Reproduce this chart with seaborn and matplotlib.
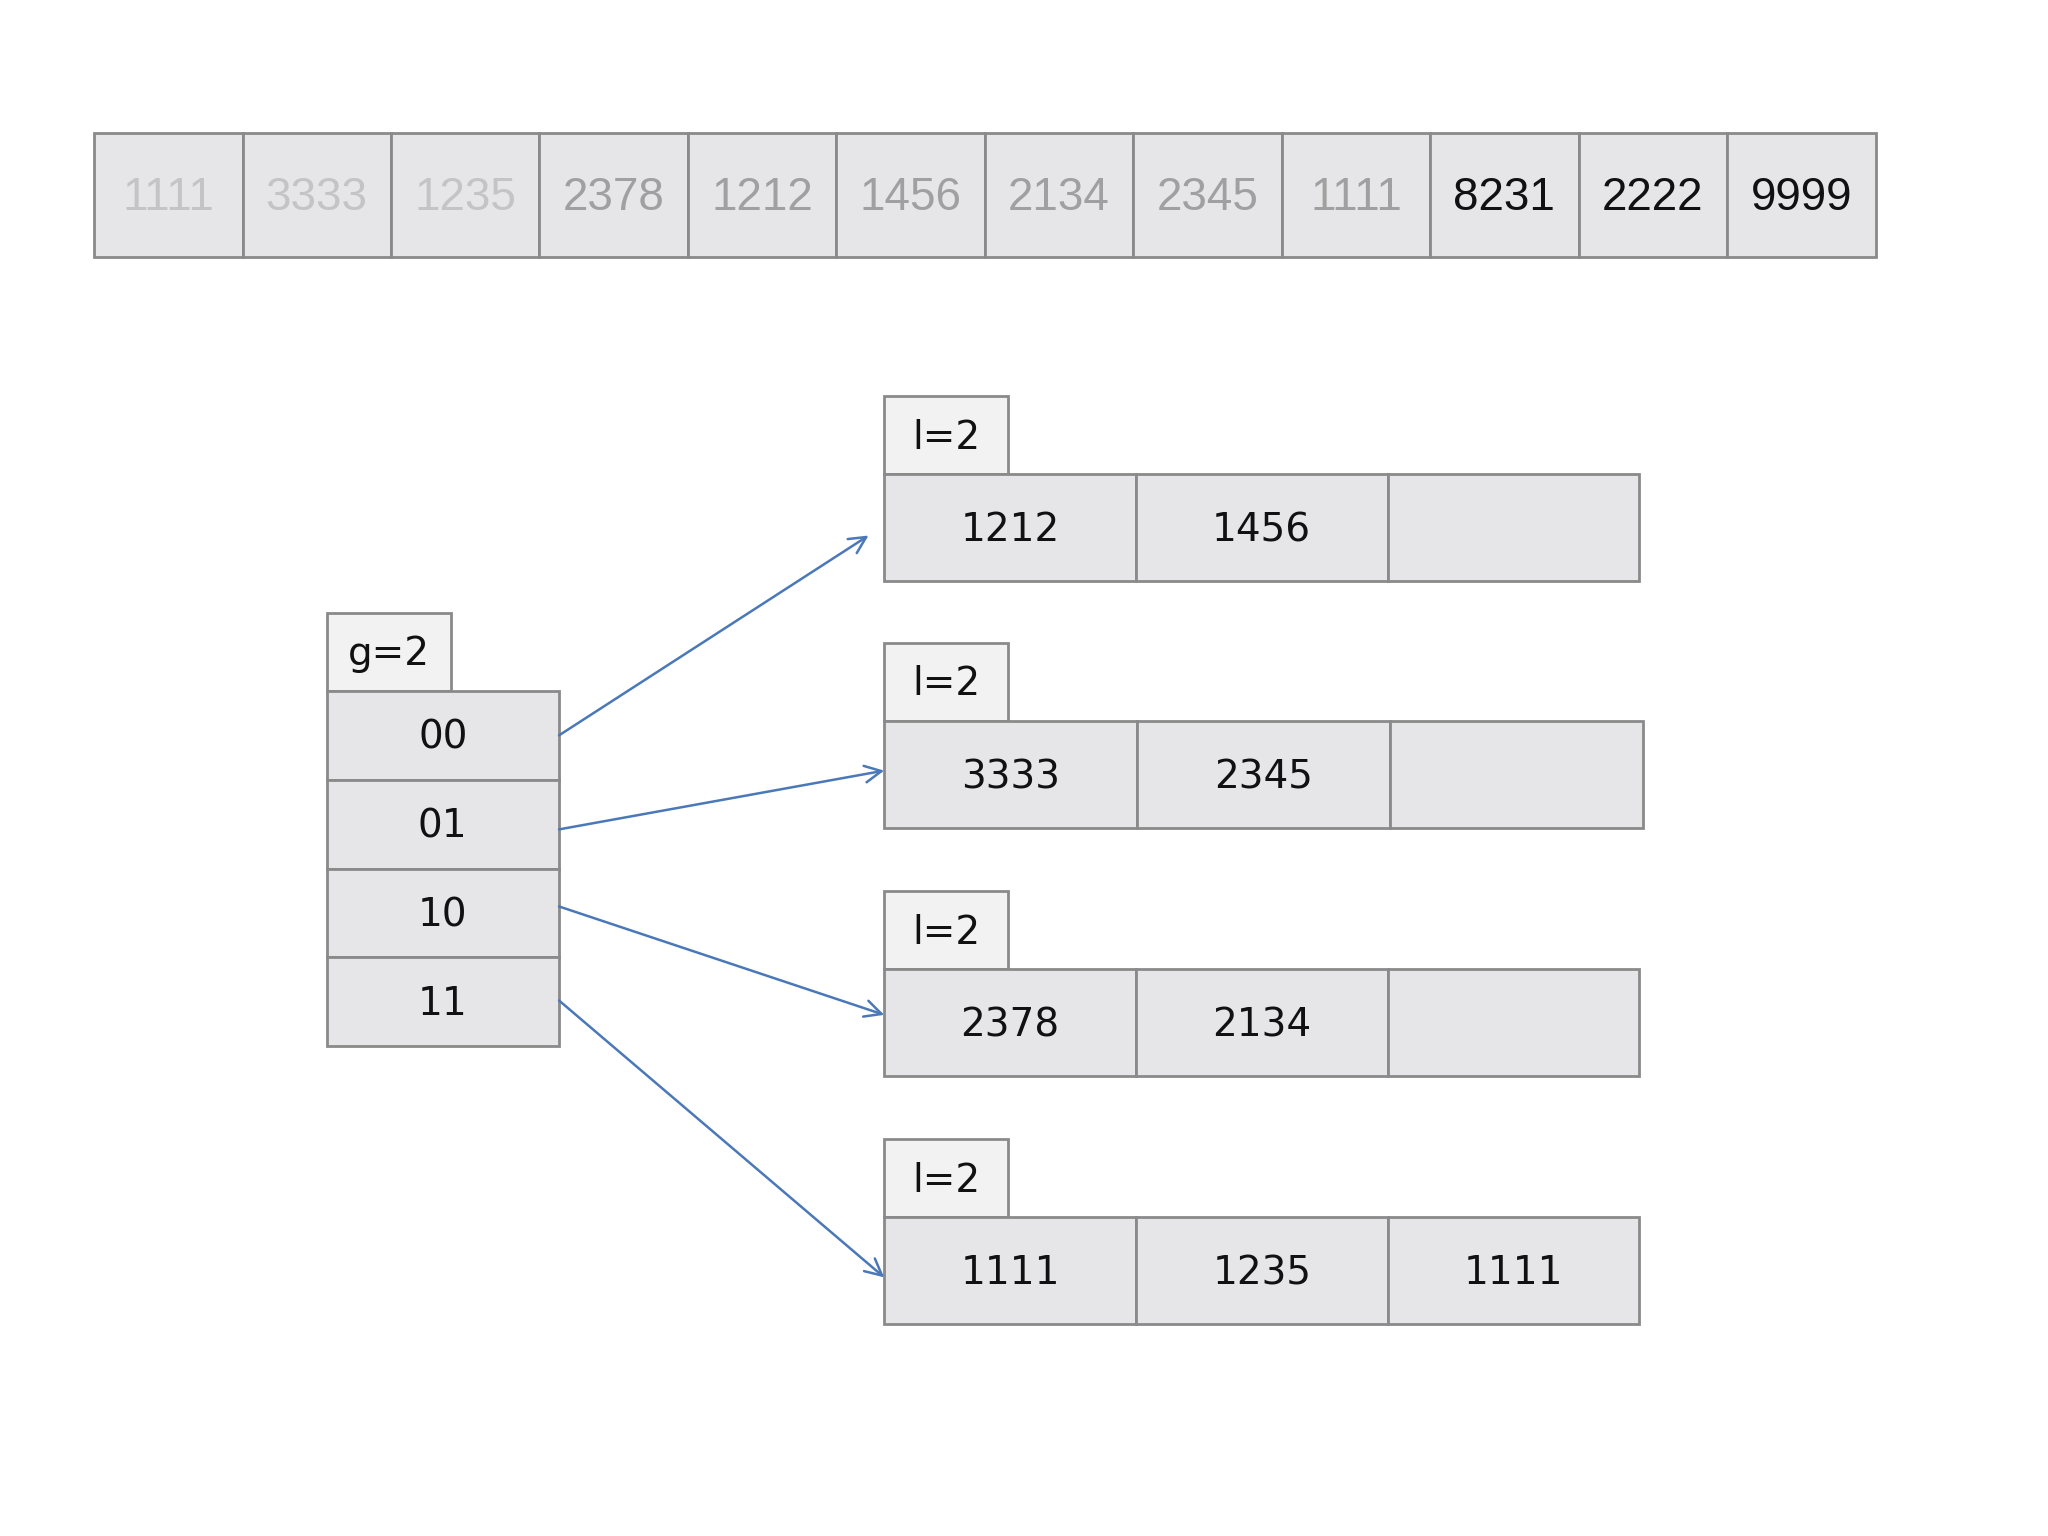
import matplotlib
matplotlib.use("Agg")
import matplotlib.pyplot as plt
from matplotlib.patches import Rectangle, FancyArrowPatch
import seaborn as sns

# top array of records
top_values = ["1111", "3333", "1235", "2378", "1212", "1456", "2134", "2345", "1111", "8231", "2222", "9999"]
top_shade = ["light", "light", "light", "mid", "mid", "mid", "mid", "mid", "mid", "dark", "dark", "dark"]

# directory
global_depth = "g=2"
dir_keys = ["00", "01", "10", "11"]

# buckets
local_depths = ["l=2", "l=2", "l=2", "l=2"]
bucket_values = [["1212", "1456", ""], ["3333", "2345", ""], ["2378", "2134", ""], ["1111", "1235", "1111"]]

sns.set_theme(style="white")
W, H = 1568, 1176
fig = plt.figure(figsize=(20.48, 15.36), dpi=100)
ax = fig.add_axes([0, 0, 1, 1])
ax.set_xlim(0, W)
ax.set_ylim(H, 0)
ax.axis("off")

cell_fc = "#e6e5e8"
edge = "#8a8a8a"
shade_col = {"light": "#c4c4c4", "mid": "#a0a0a0", "dark": "#111111"}


def box(x, y, w, h, text, fc=cell_fc, color="#111111", size=30, family="DejaVu Sans", ha="center", tx=None):
    ax.add_patch(Rectangle((x, y), w, h, facecolor=fc, edgecolor=edge, lw=2))
    if text:
        ax.text(tx if tx is not None else x + w / 2, y + h / 2 + 2, text, ha=ha, va="center",
                fontsize=size, color=color, family=family)


# top row
cw = (1436 - 72) / len(top_values)
for i, (v, s) in enumerate(zip(top_values, top_shade)):
    box(72 + i * cw, 102, cw, 95, v, color=shade_col[s], size=33, family="Liberation Sans")

# directory
box(250, 469, 95, 60, global_depth, fc="#f2f2f2", size=28)
dir_top = 529
for i, k in enumerate(dir_keys):
    box(250, dir_top + i * 68, 178, 68, k, size=28)

# buckets
row_y = [363, 552, 742, 932]
row_w = [578, 581, 578, 578]
for j, (ld, vals) in enumerate(zip(local_depths, bucket_values)):
    y = row_y[j]
    box(677, y - 60, 95, 60, ld, fc="#f2f2f2", size=28)
    bw = row_w[j] / 3
    for k, v in enumerate(vals):
        box(677 + k * bw, y, bw, 82, v, size=28)

# pointers from directory to buckets
starts = [563, 635, 694, 766]
ends = [(665, 410), (677, 590), (677, 777), (677, 978)]
for sy, (ex, ey) in zip(starts, ends):
    ax.add_patch(FancyArrowPatch((428, sy), (ex, ey), arrowstyle="->", mutation_scale=30,
                                 color="#4a78b8", lw=1.8, shrinkA=0, shrinkB=0))

fig.savefig("out.png", dpi=100, facecolor="white")
